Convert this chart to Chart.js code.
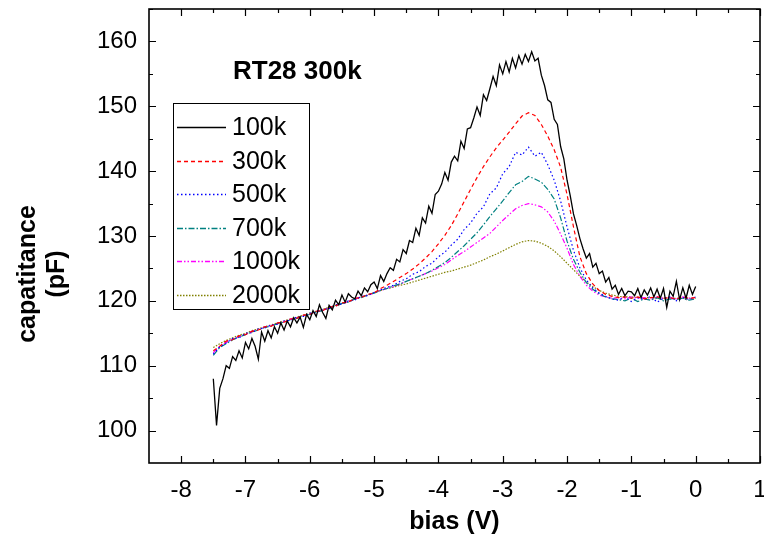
<!DOCTYPE html>
<html>
<head>
<meta charset="utf-8">
<script src="https://cdn.jsdelivr.net/npm/chart.js@4.4.0/dist/chart.umd.min.js"></script>
<style>
  body { margin: 0; background: #fff; }
  #wrap { width: 764px; height: 554px; }
</style>
</head>
<body>
<div id="wrap"><canvas id="cv" width="764" height="554"></canvas></div>
<script>
// bias sweep, 0.05 V steps (100k trace) and 0.1 V steps (other traces)
const biasFine = [
  -7.5, -7.45, -7.4, -7.35, -7.3, -7.25, -7.2, -7.15, -7.1, -7.05,
  -7, -6.95, -6.9, -6.85, -6.8, -6.75, -6.7, -6.65, -6.6, -6.55,
  -6.5, -6.45, -6.4, -6.35, -6.3, -6.25, -6.2, -6.15, -6.1, -6.05,
  -6, -5.95, -5.9, -5.85, -5.8, -5.75, -5.7, -5.65, -5.6, -5.55,
  -5.5, -5.45, -5.4, -5.35, -5.3, -5.25, -5.2, -5.15, -5.1, -5.05,
  -5, -4.95, -4.9, -4.85, -4.8, -4.75, -4.7, -4.65, -4.6, -4.55,
  -4.5, -4.45, -4.4, -4.35, -4.3, -4.25, -4.2, -4.15, -4.1, -4.05,
  -4, -3.95, -3.9, -3.85, -3.8, -3.75, -3.7, -3.65, -3.6, -3.55,
  -3.5, -3.45, -3.4, -3.35, -3.3, -3.25, -3.2, -3.15, -3.1, -3.05,
  -3, -2.95, -2.9, -2.85, -2.8, -2.75, -2.7, -2.65, -2.6, -2.55,
  -2.5, -2.45, -2.4, -2.35, -2.3, -2.25, -2.2, -2.15, -2.1, -2.05,
  -2, -1.95, -1.9, -1.85, -1.8, -1.75, -1.7, -1.65, -1.6, -1.55,
  -1.5, -1.45, -1.4, -1.35, -1.3, -1.25, -1.2, -1.15, -1.1, -1.05,
  -1, -0.95, -0.9, -0.85, -0.8, -0.75, -0.7, -0.65, -0.6, -0.55,
  -0.5, -0.45, -0.4, -0.35, -0.3, -0.25, -0.2, -0.15, -0.1, -0.05,
  0
];
const biasCoarse = [
  -7.5, -7.4, -7.3, -7.2, -7.1, -7, -6.9, -6.8, -6.7, -6.6,
  -6.5, -6.4, -6.3, -6.2, -6.1, -6, -5.9, -5.8, -5.7, -5.6,
  -5.5, -5.4, -5.3, -5.2, -5.1, -5, -4.9, -4.8, -4.7, -4.6,
  -4.5, -4.4, -4.3, -4.2, -4.1, -4, -3.9, -3.8, -3.7, -3.6,
  -3.5, -3.4, -3.3, -3.2, -3.1, -3, -2.9, -2.8, -2.7, -2.6,
  -2.5, -2.4, -2.3, -2.2, -2.1, -2, -1.9, -1.8, -1.7, -1.6,
  -1.5, -1.4, -1.3, -1.2, -1.1, -1, -0.9, -0.8, -0.7, -0.6,
  -0.5, -0.4, -0.3, -0.2, -0.1, 0
];

// capacitance (pF)
const cap100k = [
  108.0, 100.8, 106.5, 108.0, 110.0, 109.6, 111.4, 110.8, 112.3, 111.2,
  113.6, 112.6, 114.2, 113.0, 111.0, 115.2, 113.8, 115.4, 114.3, 116.0,
  115.0, 116.6, 115.5, 116.9, 116.0, 117.4, 116.6, 117.5, 115.9, 117.9,
  117.1, 118.5, 117.6, 119.4, 118.2, 117.3, 119.3, 118.6, 120.1, 119.4,
  120.9, 119.8, 121.1, 120.6, 120.3, 121.5, 120.8, 122.0, 121.4, 122.5,
  122.9, 121.9, 123.9, 123.0, 124.2, 125.1, 124.7, 126.4, 126.0, 127.9,
  127.3, 129.3, 129.0, 131.2, 130.1, 132.8, 132.0, 134.6, 133.5, 136.4,
  136.9, 138.0, 139.8, 138.6, 141.4, 142.3, 141.6, 144.6, 143.5, 146.5,
  146.7, 148.2, 149.9, 148.6, 151.8, 150.9, 152.7, 154.6, 153.2, 156.4,
  155.0, 156.9, 155.3, 157.4, 155.9, 157.8, 156.5, 158.0, 156.9, 158.4,
  157.0, 157.4, 154.8, 153.2, 151.0, 150.6, 148.0, 147.2, 143.8, 141.9,
  138.6, 136.2, 133.4, 131.6, 129.6, 128.0, 126.6, 127.3, 125.2, 125.8,
  124.2, 124.6, 122.9, 123.6, 121.8, 122.4, 121.0, 121.9, 120.8, 121.5,
  121.4, 120.8, 121.9, 120.5, 121.7, 120.9, 122.0, 120.6, 121.8, 120.4,
  121.9, 119.0, 121.5, 120.7, 123.0, 120.2, 122.0, 120.4, 122.4, 121.0,
  122.2
];
const cap300k = [
  112.3, 113.0, 113.8, 114.0, 114.6, 114.8, 115.3, 115.5, 116.0, 116.1,
  116.6, 116.7, 117.2, 117.3, 117.8, 117.9, 118.4, 118.5, 119.0, 119.2,
  119.7, 119.8, 120.4, 120.5, 121.0, 121.2, 121.9, 122.4, 123.0, 123.6,
  124.2, 124.9, 125.7, 126.6, 127.6, 128.8, 130.1, 131.6, 133.4, 135.3,
  137.2, 139.0, 140.7, 142.2, 143.6, 144.8, 146.0, 147.3, 148.5, 149.0,
  148.6, 147.2, 145.4, 143.3, 140.6, 136.4, 131.4, 126.8, 124.2, 122.6,
  121.6, 121.0, 120.7, 120.5, 120.6, 120.4, 120.6, 120.3, 120.5, 120.6,
  120.4, 120.5, 120.3, 120.6, 120.4, 120.5
];
const cap500k = [
  111.8, 112.9, 113.5, 114.2, 114.3, 115.0, 115.1, 115.7, 115.8, 116.3,
  116.4, 116.9, 117.0, 117.5, 117.6, 118.1, 118.2, 118.7, 118.8, 119.4,
  119.5, 120.0, 120.1, 120.7, 120.8, 121.3, 121.7, 122.1, 122.4, 123.0,
  123.4, 124.1, 124.5, 125.3, 125.8, 126.8, 127.5, 128.6, 129.5, 131.0,
  132.0, 133.5, 134.5, 136.5, 137.4, 139.6, 140.7, 142.9, 142.5, 143.7,
  142.3, 142.9, 141.0, 138.6, 135.4, 131.4, 127.8, 125.1, 123.2, 122.0,
  121.2, 120.7, 120.3, 120.1, 120.6, 119.9, 120.5, 120.2, 120.7, 119.8,
  120.4, 120.6, 120.0, 120.5, 120.2, 120.6
];
const cap700k = [
  111.6, 112.8, 113.4, 114.0, 114.4, 114.8, 115.2, 115.5, 115.9, 116.1,
  116.5, 116.7, 117.1, 117.3, 117.7, 117.9, 118.3, 118.5, 118.9, 119.2,
  119.6, 119.8, 120.3, 120.5, 120.9, 121.2, 121.6, 121.9, 122.3, 122.6,
  123.0, 123.4, 123.8, 124.2, 124.7, 125.3, 125.9, 126.7, 127.6, 128.5,
  129.5, 130.5, 131.7, 133.0, 134.2, 135.4, 136.7, 137.9, 138.4, 139.2,
  138.8, 138.3, 137.2, 135.7, 132.8, 129.2, 126.4, 124.4, 122.8, 121.8,
  121.1, 120.6, 120.3, 120.2, 120.0, 120.4, 119.9, 120.3, 120.1, 120.5,
  120.0, 120.3, 120.2, 120.4, 120.1, 120.3
];
const cap1000k = [
  112.0, 113.0, 113.6, 114.1, 114.5, 114.8, 115.3, 115.5, 116.0, 116.2,
  116.5, 116.8, 117.2, 117.4, 117.7, 118.0, 118.4, 118.5, 119.0, 119.2,
  119.6, 119.9, 120.3, 120.6, 120.9, 121.2, 121.6, 121.9, 122.2, 122.6,
  123.0, 123.4, 123.8, 124.2, 124.6, 125.1, 125.6, 126.3, 127.0, 127.6,
  128.3, 129.0, 129.7, 130.4, 131.4, 132.4, 133.3, 134.2, 134.7, 135.0,
  134.8, 134.5, 133.7, 132.3, 130.3, 128.1, 125.6, 123.8, 122.4, 121.5,
  120.9, 120.6, 120.4, 120.5, 120.3, 120.6, 120.4, 120.5, 120.2, 120.6,
  120.4, 120.5, 120.3, 120.6, 120.4, 120.5
];
const cap2000k = [
  112.8, 113.4, 113.9, 114.3, 114.7, 115.0, 115.4, 115.7, 116.0, 116.3,
  116.6, 116.9, 117.2, 117.5, 117.8, 118.1, 118.4, 118.7, 119.0, 119.3,
  119.6, 119.9, 120.3, 120.6, 120.9, 121.3, 121.6, 121.9, 122.1, 122.4,
  122.6, 122.9, 123.2, 123.5, 123.8, 124.1, 124.4, 124.6, 124.9, 125.2,
  125.5, 125.9, 126.3, 126.8, 127.2, 127.7, 128.2, 128.7, 129.1, 129.3,
  129.2, 128.9, 128.4, 127.7, 126.8, 125.8, 124.8, 123.8, 122.9, 122.2,
  121.6, 121.2, 120.9, 120.7, 120.6, 120.6, 120.5, 120.5, 120.5, 120.4,
  120.4, 120.4, 120.4, 120.4, 120.4, 120.4
];

const seriesNames = ['100k', '300k', '500k', '700k', '1000k', '2000k'];
const seriesBias = [biasFine, biasCoarse, biasCoarse, biasCoarse, biasCoarse, biasCoarse];
const seriesCap = [cap100k, cap300k, cap500k, cap700k, cap1000k, cap2000k];
const seriesColors = ['#000000', '#ff0000', '#0000ff', '#008080', '#ff00ff', '#808000'];
const seriesDash = [[], [4, 3], [1.5, 2.5], [6, 2, 1.5, 2], [5, 2, 1.5, 2, 1.5, 2], [1.5, 1.5]];

const xTickValues = [-8, -7, -6, -5, -4, -3, -2, -1, 0, 1];
const yTickValues = [100, 110, 120, 130, 140, 150, 160];

const plotTitle = 'RT28 300k';
const xTitle = 'bias (V)';
const yTitle = ['capatitance', '(pF)'];

const FONT = '"Liberation Sans", Arial, sans-serif';

const datasets = seriesNames.map((name, i) => ({
  label: name,
  data: seriesBias[i].map((b, k) => ({ x: b, y: seriesCap[i][k] })),
  borderColor: seriesColors[i],
  borderDash: seriesDash[i],
  borderWidth: i === 0 ? 1.3 : 1.2,
  pointRadius: 0,
  tension: 0,
  fill: false
}));

// box around the plot, inward ticks on every side, titles and the inset legend
const framePlugin = {
  id: 'frame',
  afterDatasetsDraw(chart) {
    const { ctx, chartArea: a, scales: { x, y } } = chart;
    ctx.save();
    ctx.strokeStyle = '#000';
    ctx.lineWidth = 1.2;
    ctx.beginPath();
    for (let v = -8; v <= 1; v += 0.5) {
      const px = Math.round(x.getPixelForValue(v)) + 0.5;
      const len = Number.isInteger(v) ? 7 : 4;
      ctx.moveTo(px, a.bottom); ctx.lineTo(px, a.bottom - len);
      ctx.moveTo(px, a.top); ctx.lineTo(px, a.top + len);
    }
    for (let v = 100; v <= 165; v += 5) {
      const py = Math.round(y.getPixelForValue(v)) + 0.5;
      const len = v % 10 === 0 ? 7 : 4;
      ctx.moveTo(a.left, py); ctx.lineTo(a.left + len, py);
      ctx.moveTo(a.right, py); ctx.lineTo(a.right - len, py);
    }
    ctx.stroke();
    ctx.lineWidth = 1.6;
    ctx.strokeRect(a.left, a.top, a.right - a.left, a.bottom - a.top);

    // legend
    ctx.lineWidth = 1;
    ctx.strokeRect(173.5, 103.5, 136, 206);
    ctx.font = '25px ' + FONT;
    ctx.fillStyle = '#000';
    ctx.textBaseline = 'middle';
    ctx.textAlign = 'left';
    seriesNames.forEach((name, i) => {
      const cy = Math.round(127 + i * 33.6) + 0.5;
      ctx.save();
      ctx.strokeStyle = seriesColors[i];
      ctx.lineWidth = 1.4;
      ctx.setLineDash(seriesDash[i]);
      ctx.beginPath();
      ctx.moveTo(177, cy);
      ctx.lineTo(226, cy);
      ctx.stroke();
      ctx.restore();
      ctx.fillText(name, 232, cy + 1);
    });

    // in-plot title
    ctx.font = 'bold 26px ' + FONT;
    ctx.textBaseline = 'alphabetic';
    ctx.fillText(plotTitle, 233, 79);

    // axis titles
    ctx.font = 'bold 25px ' + FONT;
    ctx.textAlign = 'center';
    ctx.textBaseline = 'middle';
    ctx.fillText(xTitle, (a.left + a.right) / 2, 522);
    yTitle.forEach((t, i) => {
      ctx.save();
      ctx.translate(28 + i * 29, 274);
      ctx.rotate(-Math.PI / 2);
      ctx.fillText(t, 0, 0);
      ctx.restore();
    });
    ctx.restore();
  }
};

new Chart(document.getElementById('cv'), {
  type: 'line',
  data: { datasets },
  options: {
    responsive: false,
    animation: false,
    layout: { padding: { top: 9, right: 4, left: 0, bottom: 0 } },
    plugins: { legend: { display: false }, tooltip: { enabled: false } },
    scales: {
      x: {
        type: 'linear',
        min: -8.5,
        max: 1,
        border: { display: false },
        grid: { display: false, drawTicks: false },
        afterBuildTicks(s) { s.ticks = xTickValues.map(v => ({ value: v })); },
        ticks: {
          autoSkip: false,
          maxRotation: 0,
          padding: 13,
          color: '#000',
          font: { family: FONT, size: 24 }
        },
        afterFit(s) { s.height = 91; s.paddingLeft = 0; s.paddingRight = 0; }
      },
      y: {
        type: 'linear',
        min: 95,
        max: 165,
        border: { display: false },
        grid: { display: false, drawTicks: false },
        afterBuildTicks(s) { s.ticks = yTickValues.map(v => ({ value: v })); },
        ticks: {
          padding: 12,
          color: '#000',
          font: { family: FONT, size: 24 }
        },
        afterFit(s) { s.width = 149; s.paddingTop = 0; s.paddingBottom = 0; }
      }
    }
  },
  plugins: [framePlugin]
});
</script>
</body>
</html>
